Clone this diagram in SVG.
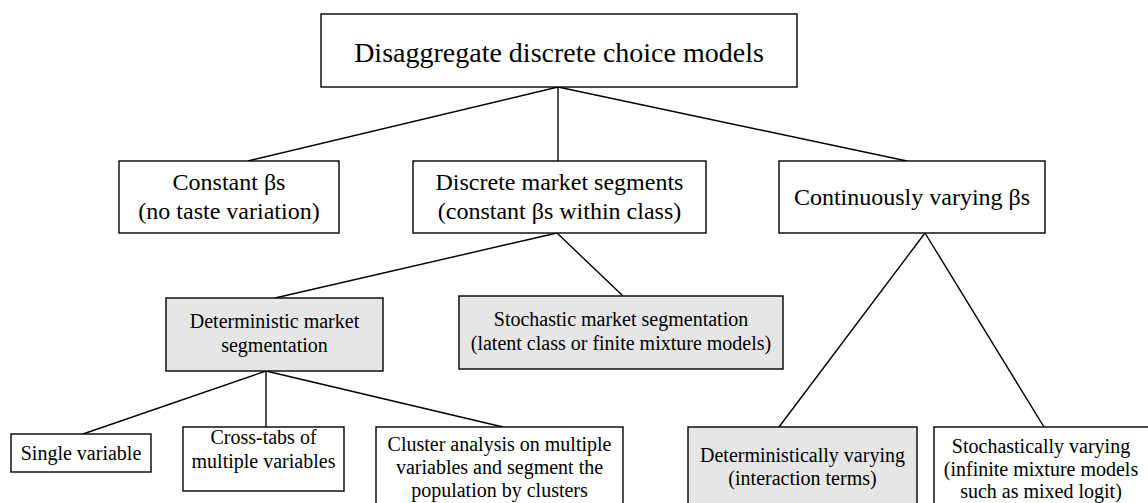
<svg xmlns="http://www.w3.org/2000/svg" width="1148" height="503" viewBox="0 0 1148 503">
<style>
rect.n{fill:#ffffff;stroke:#000000;stroke-width:1.4}
rect.g{fill:#e6e6e6;stroke:#000000;stroke-width:1.4}
text{font-family:"Liberation Serif","Times New Roman",serif;fill:#000000;text-anchor:middle}
.t1{font-size:28px}
.t2{font-size:24px}
.t3{font-size:20px}
#connectors line{stroke:#000000;stroke-width:1.4}
</style>
<rect width="1148" height="503" fill="#ffffff"/>
<g id="connectors">
<line x1="558" y1="87" x2="248" y2="161"/>
<line x1="558" y1="87" x2="558" y2="161"/>
<line x1="558" y1="87" x2="907" y2="161"/>
<line x1="557" y1="233" x2="275" y2="298"/>
<line x1="557" y1="233" x2="623" y2="296"/>
<line x1="266" y1="371" x2="83" y2="434"/>
<line x1="266" y1="371" x2="266" y2="427"/>
<line x1="266" y1="371" x2="503" y2="427"/>
<line x1="925" y1="233" x2="779" y2="427"/>
<line x1="925" y1="233" x2="1044" y2="427"/>
</g>
<g id="root">
<rect class="n" x="321" y="14" width="476" height="73"/>
<text class="t1" x="559" y="62">Disaggregate discrete choice models</text>
</g>
<g id="constant">
<rect class="n" x="119" y="161" width="220" height="72"/>
<text class="t2" x="229" y="190">Constant βs</text>
<text class="t2" x="229" y="219">(no taste variation)</text>
</g>
<g id="discrete">
<rect class="n" x="413" y="161" width="293" height="72"/>
<text class="t2" x="559.5" y="190">Discrete market segments</text>
<text class="t2" x="559.5" y="219">(constant βs within class)</text>
</g>
<g id="continuous">
<rect class="n" x="779" y="161" width="266" height="72"/>
<text class="t2" x="912" y="205">Continuously varying βs</text>
</g>
<g id="deterministic">
<rect class="g" x="166" y="298" width="217" height="73"/>
<text class="t3" x="274.5" y="328">Deterministic market</text>
<text class="t3" x="274.5" y="352">segmentation</text>
</g>
<g id="stochastic">
<rect class="g" x="459" y="296" width="324" height="73"/>
<text class="t3" x="621" y="326">Stochastic market segmentation</text>
<text class="t3" x="621" y="350">(latent class or finite mixture models)</text>
</g>
<g id="single">
<rect class="n" x="11" y="434" width="140" height="38"/>
<text class="t3" x="81" y="460">Single variable</text>
</g>
<g id="crosstabs">
<rect class="n" x="183" y="427" width="161" height="64"/>
<text class="t3" x="263.5" y="444">Cross-tabs of</text>
<text class="t3" x="263.5" y="468">multiple variables</text>
</g>
<g id="cluster">
<rect class="n" x="376" y="427" width="247" height="90"/>
<text class="t3" x="499.5" y="451">Cluster analysis on multiple</text>
<text class="t3" x="499.5" y="474">variables and segment the</text>
<text class="t3" x="499.5" y="497">population by clusters</text>
</g>
<g id="detvarying">
<rect class="g" x="688" y="427" width="229" height="90"/>
<text class="t3" x="802.5" y="462">Deterministically varying</text>
<text class="t3" x="802.5" y="485">(interaction terms)</text>
</g>
<g id="stochvarying">
<rect class="n" x="934" y="427" width="220" height="90"/>
<text class="t3" x="1041" y="453">Stochastically varying</text>
<text class="t3" x="1041" y="476">(infinite mixture models</text>
<text class="t3" x="1041" y="498">such as mixed logit)</text>
</g>
</svg>
